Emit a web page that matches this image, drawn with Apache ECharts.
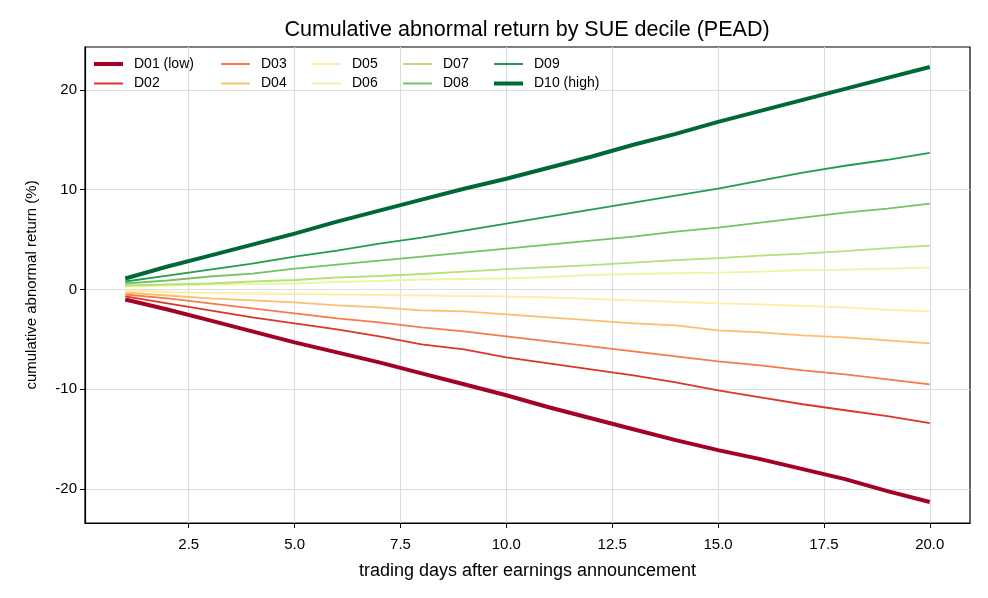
<!DOCTYPE html>
<html>
<head>
<meta charset="utf-8">
<script src="https://cdn.jsdelivr.net/npm/echarts@6/dist/echarts.min.js"></script>
<style>
html,body{margin:0;padding:0;background:#fff;}
#chart{width:988px;height:598px;}
</style>
</head>
<body>
<div id="chart"></div>
<script>
const days = [1,2,3,4,5,6,7,8,9,10,11,12,13,14,15,16,17,18,19,20];
const seriesNames = ["D01 (low)","D02","D03","D04","D05","D06","D07","D08","D09","D10 (high)"];
const d01 = [-1.0,-2.0,-3.1,-4.2,-5.3,-6.3,-7.3,-8.4,-9.5,-10.6,-11.8,-12.9,-14.0,-15.1,-16.1,-17.0,-18.0,-19.0,-20.2,-21.3];
const d02 = [-0.7,-1.4,-2.1,-2.8,-3.4,-4.0,-4.7,-5.5,-6.0,-6.8,-7.4,-8.0,-8.6,-9.3,-10.1,-10.8,-11.5,-12.1,-12.7,-13.4];
const d03 = [-0.5,-0.9,-1.4,-1.9,-2.4,-2.9,-3.3,-3.8,-4.2,-4.7,-5.2,-5.7,-6.2,-6.7,-7.2,-7.6,-8.1,-8.5,-9.0,-9.5];
const d04 = [-0.3,-0.6,-0.9,-1.1,-1.3,-1.6,-1.8,-2.1,-2.2,-2.5,-2.8,-3.1,-3.4,-3.6,-4.1,-4.3,-4.6,-4.8,-5.1,-5.4];
const d05 = [-0.1,-0.25,-0.35,-0.4,-0.45,-0.5,-0.55,-0.6,-0.65,-0.7,-0.8,-0.95,-1.1,-1.25,-1.4,-1.5,-1.65,-1.8,-2.05,-2.2];
const d06 = [0.3,0.4,0.5,0.55,0.6,0.75,0.85,1.0,1.05,1.1,1.25,1.45,1.55,1.65,1.7,1.8,1.95,2.0,2.1,2.2];
const d07 = [0.4,0.5,0.6,0.8,0.95,1.2,1.35,1.55,1.8,2.05,2.25,2.45,2.7,2.95,3.15,3.4,3.6,3.85,4.15,4.4];
const d08 = [0.6,0.9,1.3,1.6,2.1,2.5,2.9,3.3,3.7,4.1,4.5,4.9,5.3,5.8,6.2,6.7,7.2,7.7,8.1,8.6];
const d09 = [0.8,1.4,2.0,2.6,3.3,3.9,4.6,5.2,5.9,6.6,7.3,8.0,8.7,9.4,10.1,10.9,11.7,12.4,13.0,13.7];
const d10 = [1.1,2.3,3.4,4.5,5.6,6.8,7.9,9.0,10.1,11.1,12.2,13.3,14.5,15.6,16.8,17.9,19.0,20.1,21.2,22.3];
const xTicks = [2.5,5,7.5,10,12.5,15,17.5,20];
const yTicks = [-20,-10,0,10,20];

const allValues = [d01,d02,d03,d04,d05,d06,d07,d08,d09,d10];
const colors = ["#a50026","#da362a","#f67b4a","#fdbf6f","#feeda2","#eaf6a2","#b7e075","#74c365","#229c52","#006837"];
const widths = [4,1.8,1.8,1.8,1.8,1.8,1.8,1.8,1.8,4];
const FONT = "'Liberation Sans', Arial, Helvetica, sans-serif";

const series = allValues.map((vals, i) => ({
  name: seriesNames[i],
  type: 'line',
  data: days.map((d, j) => [d, vals[j]]),
  showSymbol: false,
  symbol: 'none',
  lineStyle: {color: colors[i], width: widths[i]},
  itemStyle: {color: colors[i]},
  z: 2 + i,
  animation: false
}));

const colX = [94, 221, 312, 403, 494];
const rowY = [57, 76.5];
const legends = seriesNames.map((n, i) => ({
  data: [n],
  left: colX[Math.floor(i / 2)],
  top: rowY[i % 2],
  icon: 'rect',
  itemWidth: 29,
  itemHeight: widths[i] >= 3 ? 4 : 2,
  itemGap: 0,
  padding: 0,
  selectedMode: false,
  textStyle: {fontFamily: FONT, fontSize: 14, color: '#000', padding: [0,0,0,6]}
}));

const chart = echarts.init(document.getElementById('chart'), null, {renderer: 'canvas'});
chart.setOption({
  backgroundColor: '#fff',
  animation: false,
  title: {
    text: 'Cumulative abnormal return by SUE decile (PEAD)',
    left: 522,
    textAlign: 'center',
    top: 14,
    textStyle: {fontFamily: FONT, fontSize: 21.5, fontWeight: 'normal', color: '#000'}
  },
  legend: legends,
  grid: {left: 85, right: 18, top: 47, bottom: 75, show: true, borderColor: '#000', borderWidth: 1.2, backgroundColor: 'transparent'},
  xAxis: {
    type: 'value',
    min: 0.05, max: 20.95,
    minInterval: 2.5, maxInterval: 2.5,
    name: 'trading days after earnings announcement',
    nameLocation: 'middle',
    nameGap: 39,
    nameTextStyle: {fontFamily: FONT, fontSize: 18, color: '#000'},
    axisLine: {show: true, onZero: false, lineStyle: {color: '#000', width: 1.2}},
    axisTick: {show: true, length: 5, lineStyle: {color: '#000', width: 1}, customValues: xTicks},
    axisLabel: {fontFamily: FONT, fontSize: 15, color: '#000', margin: 14, customValues: xTicks, formatter: v => v.toFixed(1)},
    splitLine: {show: true, lineStyle: {color: '#dcdcdc', width: 1}}
  },
  yAxis: {
    type: 'value',
    min: -23.4, max: 24.3,
    minInterval: 10, maxInterval: 10,
    name: 'cumulative abnormal return (%)',
    nameLocation: 'middle',
    nameGap: 46,
    nameTextStyle: {fontFamily: FONT, fontSize: 15, color: '#000'},
    axisLine: {show: true, onZero: false, lineStyle: {color: '#000', width: 1.2}},
    axisTick: {show: true, length: 5, lineStyle: {color: '#000', width: 1}, customValues: yTicks},
    axisLabel: {fontFamily: FONT, fontSize: 15, color: '#000', margin: 8, customValues: yTicks, formatter: v => String(v)},
    splitLine: {show: true, lineStyle: {color: '#dcdcdc', width: 1}}
  },
  series: series
});
</script>
</body>
</html>
